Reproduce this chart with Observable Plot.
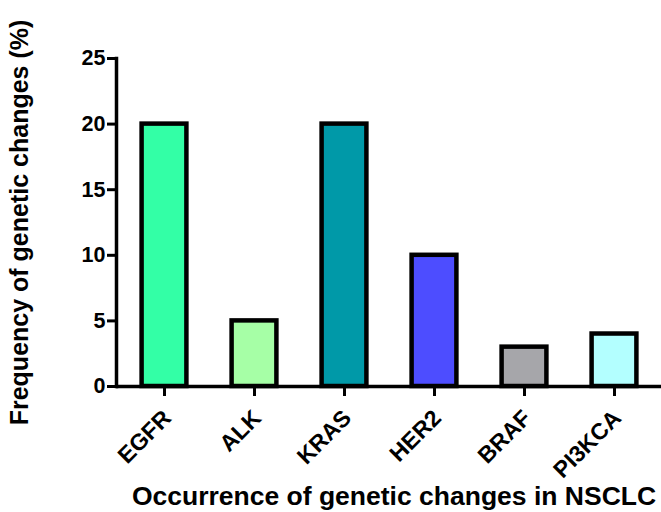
<!DOCTYPE html>
<html>
<head>
<meta charset="utf-8">
<script src="https://cdn.jsdelivr.net/npm/d3@7"></script>
<script src="https://cdn.jsdelivr.net/npm/@observablehq/plot@0.6"></script>
<style>
  html, body { margin: 0; padding: 0; background: #fff; }
</style>
</head>
<body>
<div id="chart"></div>
<script>
const genes = ["EGFR", "ALK", "KRAS", "HER2", "BRAF", "PI3KCA"];
const frequency = [20, 5, 20, 10, 3, 4];
const colors = ["#33FFA6", "#A6FFA6", "#0099A8", "#4D4DFF", "#A6A6AA", "#B3FFFF"];
const yTicks = [0, 5, 10, 15, 20, 25];
const yTitle = "Frequency of genetic changes (%)";
const xTitle = "Occurrence of genetic changes in NSCLC";

const data = genes.map((g, i) => ({gene: g, value: frequency[i], color: colors[i]}));

const chart = Plot.plot({
  width: 661,
  height: 512,
  marginLeft: 116,
  marginRight: 0,
  marginTop: 58,
  marginBottom: 126,
  style: {fontFamily: "'Liberation Sans', Arial, sans-serif", fontWeight: "bold", background: "#fff", color: "#000"},
  x: {domain: genes, padding: 0, label: null},
  y: {domain: [0, 25], label: null},
  marks: [
    Plot.barY(data, {
      x: "gene", y: "value", fill: d => d.color,
      stroke: "#000", strokeWidth: 4.5, insetLeft: 22.6, insetRight: 22.6
    }),
    Plot.ruleY([0], {stroke: "#000", strokeWidth: 3.5}),
    Plot.frame({anchor: "left", stroke: "#000", strokeWidth: 3.5}),
    Plot.axisY({ticks: yTicks, tickSize: 9, tickPadding: 2, strokeWidth: 3, fontSize: 21.5, fontWeight: "bold", label: null}),
    Plot.axisX({tickSize: 10, strokeWidth: 3, fill: "none", label: null}),
    Plot.text(genes, {x: d => d, frameAnchor: "bottom", rotate: -45, textAnchor: "end", dx: 8, dy: 33, fontSize: 23, fontWeight: "bold", fill: "#000"}),
    Plot.text([yTitle], {frameAnchor: "left", textAnchor: "middle", rotate: -90, dx: -97, fontSize: 25, fontWeight: "bold", fill: "#000"}),
    Plot.text([xTitle], {frameAnchor: "bottom", textAnchor: "middle", dx: 5, dy: 118, fontSize: 26.5, fontWeight: "bold", fill: "#000"})
  ]
});
document.getElementById("chart").appendChild(chart);
</script>
</body>
</html>
